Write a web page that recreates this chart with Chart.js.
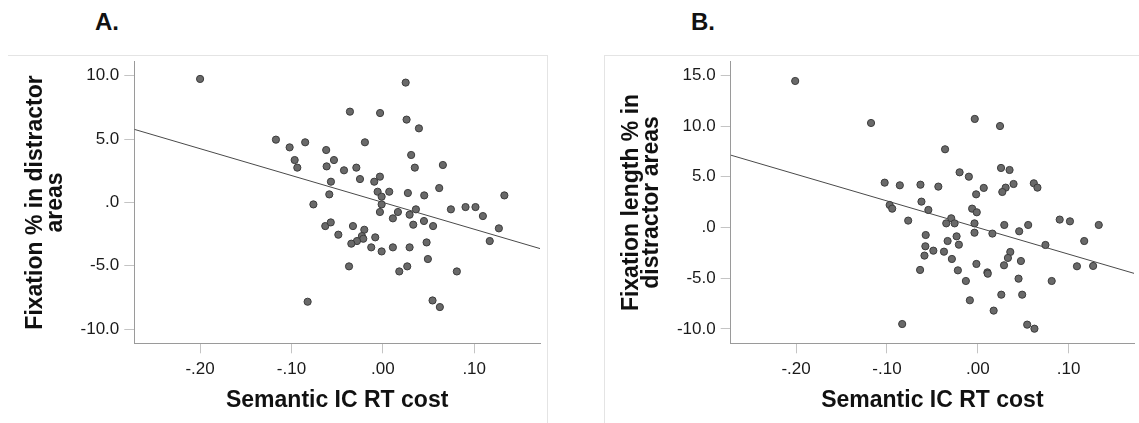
<!DOCTYPE html>
<html>
<head>
<meta charset="utf-8">
<script src="https://cdn.jsdelivr.net/npm/chart.js@4/dist/chart.umd.min.js"></script>
<style>
  body { margin: 0; background: #fff; width: 1139px; height: 423px; overflow: hidden; position: relative; font-family: "Liberation Sans", Arial, sans-serif; }
  .panel-title { position: absolute; top: 10px; font-size: 24px; font-weight: bold; line-height: 1; color: #111; }
  .frame { position: absolute; border: 0 solid #e4e4e4; }
  canvas { position: absolute; top: 40px; }
</style>
</head>
<body>
<div class="frame" style="left:8px; top:55px; width:539px; height:400px; border-top-width:1px; border-right-width:1px;"></div>
<div class="frame" style="left:604px; top:55px; width:600px; height:400px; border-top-width:1px; border-left-width:1px;"></div>
<div class="panel-title" style="left:95px;">A.</div>
<div class="panel-title" style="left:691px;">B.</div>
<canvas id="chartA" width="560" height="383" style="left:0px;"></canvas>
<canvas id="chartB" width="559" height="383" style="left:580px;"></canvas>
<script>
// x axis (shared by both panels)
const xTickValues = [-0.2, -0.1, 0, 0.1];
const xTickLabels = ["-.20", "-.10", ".00", ".10"];
const xRange = [-0.272, 0.172];

// panel A: fixation % in distractor areas
const costA = [
  -0.200, 0.025, -0.036, -0.003, 0.026, 0.0395, -0.117, -0.085, -0.0196, -0.102,
  -0.062, 0.031, -0.0965, -0.0535, 0.0657, -0.0936, -0.0615, -0.029, 0.035, -0.0425,
  -0.0032, -0.025, -0.0568, -0.0094, 0.0617, -0.0057, 0.007, -0.0586, 0.0274, -0.0013,
  0.0453, 0.133, -0.076, -0.0013, 0.0745, 0.0905, 0.1014, -0.0032, 0.0165, 0.0362,
  0.0293, 0.1095, 0.011, 0.045, 0.0333, -0.063, -0.057, -0.0327, 0.055, -0.0203,
  0.127, -0.0487, -0.0229, -0.0083, -0.0214, -0.0283, -0.0345, 0.117, 0.0479, -0.0127,
  -0.0013, 0.011, 0.0293, 0.0493, -0.037, 0.0267, 0.018, 0.081, -0.0823, 0.0544,
  0.0624
];
const fixationA = [
  9.74, 9.45, 7.16, 7.05, 6.53, 5.84, 4.95, 4.74, 4.74, 4.34,
  4.13, 3.74, 3.34, 3.34, 2.95, 2.74, 2.84, 2.74, 2.74, 2.53,
  2.03, 1.84, 1.63, 1.63, 1.13, 0.84, 0.84, 0.63, 0.74, 0.45,
  0.55, 0.55, -0.16, -0.16, -0.55, -0.37, -0.37, -0.76, -0.76, -0.55,
  -0.97, -1.08, -1.26, -1.47, -1.76, -1.87, -1.58, -1.87, -1.87, -2.16,
  -2.05, -2.55, -2.66, -2.76, -2.87, -3.05, -3.26, -3.05, -3.16, -3.55,
  -3.87, -3.55, -3.55, -4.47, -5.05, -5.05, -5.45, -5.45, -7.84, -7.74,
  -8.26
];
const yTickValuesA = [-10, -5, 0, 5, 10];
const yTickLabelsA = ["-10.0", "-5.0", ".0", "5.0", "10.0"];
const yRangeA = [-11.12, 11.1];

// panel B: fixation length % in distractor areas
const costB = [
  -0.201, -0.1175, -0.0033, 0.0245, -0.036, 0.0256, 0.035, -0.020, -0.0098, -0.1025,
  -0.0858, -0.0631, -0.0434, 0.0066, 0.0394, 0.0307, 0.027, 0.0617, 0.0657, -0.0018,
  -0.097, -0.0942, -0.062, -0.0544, -0.0062, -0.0011, -0.0766, -0.0292, -0.0347, -0.0255,
  -0.0036, 0.0292, 0.0555, 0.0902, 0.1015, 0.1332, -0.0573, -0.0036, 0.0161, 0.0456,
  -0.0233, -0.0332, -0.0208, -0.0577, 0.0745, 0.1172, -0.0489, -0.0372, 0.0358, -0.0587,
  -0.0285, 0.0332, 0.0475, 0.0289, -0.0015, 0.1092, 0.127, -0.0635, -0.0219, 0.0106,
  0.011, 0.0449, -0.0131, 0.0814, 0.0259, 0.0489, -0.0087, 0.0175, -0.0832, 0.0544,
  0.0624
];
const fixLengthB = [
  14.44, 10.30, 10.70, 10.0, 7.71, 5.87, 5.67, 5.44, 5.01, 4.42,
  4.16, 4.22, 4.03, 3.90, 4.29, 3.93, 3.50, 4.36, 3.93, 3.27,
  2.22, 1.86, 2.55, 1.73, 1.86, 1.50, 0.68, 0.91, 0.41, 0.41,
  0.41, 0.25, 0.25, 0.78, 0.61, 0.25, -0.74, -0.51, -0.60, -0.37,
  -0.87, -1.33, -1.69, -1.85, -1.72, -1.33, -2.28, -2.38, -2.41, -2.77,
  -3.10, -3.0, -3.30, -3.72, -3.59, -3.82, -3.79, -4.18, -4.22, -4.42,
  -4.55, -5.04, -5.27, -5.27, -6.62, -6.62, -7.17, -8.19, -9.51, -9.57,
  -9.97
];
const yTickValuesB = [-10, -5, 0, 5, 10, 15];
const yTickLabelsB = ["-10.0", "-5.0", ".0", "5.0", "10.0", "15.0"];
const yRangeB = [-11.41, 16.34];

// ordinary least squares fit
function fitLine(xs, ys) {
  const n = xs.length;
  const mx = xs.reduce((a, b) => a + b, 0) / n;
  const my = ys.reduce((a, b) => a + b, 0) / n;
  let sxy = 0, sxx = 0;
  for (let i = 0; i < n; i++) {
    sxy += (xs[i] - mx) * (ys[i] - my);
    sxx += (xs[i] - mx) * (xs[i] - mx);
  }
  const slope = sxy / sxx;
  return { slope: slope, intercept: my - slope * mx };
}

const titleFont = { family: "'Liberation Sans', Arial, sans-serif", size: 23, weight: "bold", lineHeight: 0.87 };
const tickFont = { family: "'Liberation Sans', Arial, sans-serif", size: 17 };

function makeChart(id, xs, ys, yTicks, yLabels, yRange, yTitle, opts) {
  const fit = fitLine(xs, ys);
  const ctx = document.getElementById(id).getContext("2d");
  return new Chart(ctx, {
    type: "scatter",
    data: {
      datasets: [
        {
          data: xs.map((x, i) => ({ x: x, y: ys[i] })),
          backgroundColor: "#696969",
          borderColor: "#3c3c3c",
          borderWidth: 1,
          pointRadius: 3.6,
          order: 1
        },
        {
          type: "line",
          data: xRange.map((x) => ({ x: x, y: fit.intercept + fit.slope * x })),
          borderColor: "#4a4a4a",
          borderWidth: 1,
          pointRadius: 0,
          fill: false,
          order: 2
        }
      ]
    },
    options: {
      responsive: false,
      animation: false,
      layout: { padding: { left: 0, top: 21.7, right: opts.right, bottom: 0 } },
      plugins: { legend: { display: false }, tooltip: { enabled: false } },
      scales: {
        x: {
          type: "linear",
          min: xRange[0],
          max: xRange[1],
          afterBuildTicks: (s) => { s.ticks = xTickValues.map((v) => ({ value: v })); },
          afterFit: (s) => { s.height = 79.7; },
          ticks: {
            callback: (v, i) => xTickLabels[i],
            font: tickFont,
            color: "#1a1a1a",
            padding: 6,
            autoSkip: false,
            maxRotation: 0
          },
          grid: { drawOnChartArea: false, drawTicks: true, tickLength: 10, color: "#c4c4c4" },
          border: { display: true, color: "#9a9a9a", width: 1 },
          title: {
            display: true,
            text: "Semantic IC RT cost",
            font: titleFont,
            color: "#111",
            padding: { top: 0, bottom: 12.7 }
          }
        },
        y: {
          type: "linear",
          min: yRange[0],
          max: yRange[1],
          afterBuildTicks: (s) => { s.ticks = yTicks.map((v) => ({ value: v })); },
          afterFit: (s) => { s.width = opts.yWidth; },
          ticks: {
            callback: (v, i) => yLabels[i],
            font: tickFont,
            color: "#1a1a1a",
            padding: 5,
            autoSkip: false
          },
          grid: { drawOnChartArea: false, drawTicks: true, tickLength: 10, color: "#c4c4c4" },
          border: { display: true, color: "#9a9a9a", width: 1 },
          title: {
            display: true,
            text: yTitle,
            font: titleFont,
            color: "#111",
            padding: { top: opts.titlePad, bottom: 0 }
          }
        }
      }
    }
  });
}

makeChart("chartA", costA, fixationA, yTickValuesA, yTickLabelsA, yRangeA,
  ["Fixation % in distractor", "areas"],
  { right: 20, yWidth: 134.3, titlePad: 25.3 });

makeChart("chartB", costB, fixLengthB, yTickValuesB, yTickLabelsB, yRangeB,
  ["Fixation length % in", "distractor areas"],
  { right: 2.3, yWidth: 150.7, titlePad: 41.7 });
</script>
</body>
</html>
